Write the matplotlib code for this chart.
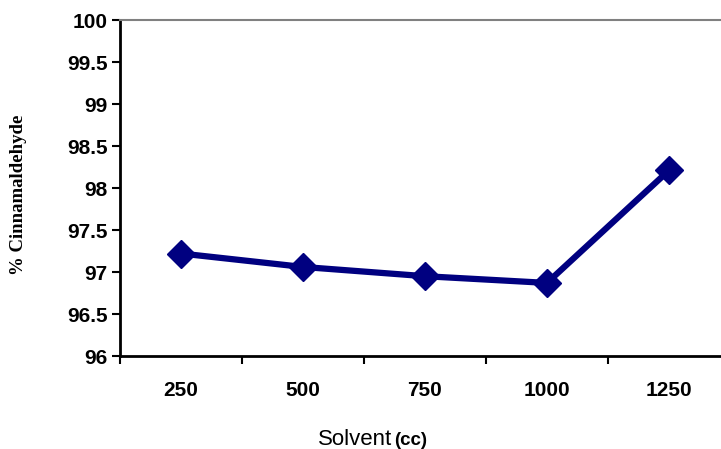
import numpy as np
import matplotlib
matplotlib.use('Agg')
import matplotlib.pyplot as plt

# data
solvent = ['250', '500', '750', '1000', '1250']
cinnamaldehyde = [97.22, 97.06, 96.95, 96.87, 98.21]
y_ticks = [96, 96.5, 97, 97.5, 98, 98.5, 99, 99.5, 100]
y_tick_labels = ['96', '96.5', '97', '97.5', '98', '98.5', '99', '99.5', '100']

W, H = 721, 449
fig = plt.figure(figsize=(W / 100, H / 100), dpi=100)
fig.patch.set_facecolor('white')

# plot box: x 120..730 px (runs past the right edge), y 20..356 px
left, right, top, bottom = 120, 730, 20, 356
ax = fig.add_axes([left / W, 1 - bottom / H, (right - left) / W, (bottom - top) / H])

x = np.arange(len(solvent))
ax.plot(x, cinnamaldehyde, color='#000080', linewidth=4.5, marker='D',
        markersize=14.5, markerfacecolor='#000080', markeredgecolor='#000080',
        solid_joinstyle='miter', clip_on=False, zorder=3)

ax.set_xlim(-0.5, len(solvent) - 0.5)
ax.set_ylim(96, 100)

# x ticks sit on category boundaries, labels at category centres
ax.set_xticks(np.arange(len(solvent) + 1) - 0.5)
ax.set_xticklabels([])
ax.set_xticks(x, minor=True)
ax.set_xticklabels(solvent, minor=True, fontsize=15, fontweight='bold',
                   family='Liberation Sans')
ax.tick_params(axis='x', which='major', direction='out', length=6, width=1.5)
ax.tick_params(axis='x', which='minor', length=0, pad=18)

ax.set_yticks(y_ticks)
ax.set_yticklabels(y_tick_labels, fontsize=15, fontweight='bold',
                   family='Liberation Sans')
ax.tick_params(axis='y', direction='out', length=6, width=1.5, pad=3)

ax.spines['left'].set_linewidth(2)
ax.spines['bottom'].set_linewidth(2)
ax.spines['top'].set_color('#808080')
ax.spines['top'].set_linewidth(1.5)
ax.spines['right'].set_visible(False)

fig.text(19 / W, 1 - 195 / H, '% Cinnamaldehyde', rotation=90, ha='center',
         va='center', fontsize=13.5, fontweight='bold', family='Liberation Serif')
fig.text(318 / W, 1 - 445 / H, 'Solvent', ha='left', va='baseline',
         fontsize=16, family='Liberation Sans')
fig.text(394 / W, 1 - 445 / H, '(cc)', ha='left', va='baseline',
         fontsize=13.5, fontweight='bold', family='Liberation Sans')

fig.savefig('out.png', dpi=100)
